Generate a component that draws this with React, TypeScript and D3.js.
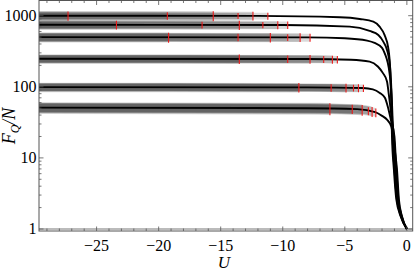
import * as d3 from "d3";
import React from "react";

// curves: interaction U vs F_Q/N, one per particle number
const uA = [-29.64, -12, -5.4, -3.8, -2.7, -2.2, -1.8, -1.5, -1.35, -1.27, -1.2, -1.05, -0.85, -0.5, 0];
const fA = [1000, 995, 950, 899, 824, 701, 536, 353, 180, 70, 20, 7, 2.6, 1.5, 1];
const uB = [-29.64, -10, -4.6, -3.0, -2.3, -1.9, -1.6, -1.35, -1.22, -1.15, -1.0, -0.8, -0.47, 0];
const fB = [745, 740, 701, 610, 536, 432, 330, 190, 65, 20, 7, 2.6, 1.5, 1];
const uC = [-29.64, -8, -5, -3.2, -2.6, -2.0, -1.8, -1.4, -1.2, -1.1, -0.95, -0.76, -0.45, 0];
const fC = [500, 495, 482, 446, 414, 352, 300, 157, 60, 20, 7, 2.6, 1.5, 1];
const uD = [-29.64, -8, -4.5, -3.0, -2.34, -1.94, -1.6, -1.45, -1.25, -1.05, -0.9, -0.72, -0.43, 0];
const fD = [248, 246, 240, 226, 193, 157, 119, 77, 40, 20, 7, 2.6, 1.5, 1];
const uE = [-29.64, -8, -3.55, -2.74, -2.18, -1.77, -1.53, -1.3, -1.0, -0.85, -0.68, -0.41, 0];
const fE = [99, 98, 96, 92, 82, 70, 52, 35, 20, 7, 2.6, 1.5, 1];
const uF = [-29.64, -8, -4, -2.55, -2.0, -1.6, -1.25, -1.09, -0.95, -0.8, -0.64, -0.39, 0];
const fF = [51, 50, 48.5, 44, 39, 34.5, 27.5, 18, 12, 7, 2.6, 1.5, 1];

// ends of the estimate ranges (red marks) and their relative errors
const endsA = [-27.3, -19.3, -15.6, -13.6, -12.4, -11.2];
const errA = [0.15, 0.12, 0.16, 0.1, 0.14, 0.11];
const endsB = [-23.4, -16.5, -13.5, -11.6, -10.4, -9.6];
const errB = [0.14, 0.11, 0.15, 0.1, 0.13, 0.12];
const endsC = [-19.2, -13.6, -11.0, -9.6, -8.6, -7.8];
const errC = [0.16, 0.12, 0.15, 0.11, 0.14, 0.13];
const endsD = [-13.5, -9.6, -7.8, -6.7, -6.0, -5.6];
const errD = [0.15, 0.12, 0.14, 0.11, 0.13, 0.12];
const endsE = [-8.7, -6.1, -4.9, -4.3, -3.9, -3.5];
const errE = [0.15, 0.12, 0.14, 0.11, 0.13, 0.12];
const endsF = [-6.2, -4.4, -3.6, -3.1, -2.8, -2.5];
const errF = [0.19, 0.15, 0.17, 0.13, 0.16, 0.14];

const xMajor = [-25, -20, -15, -10, -5, 0];
const yMajor = [1, 10, 100, 1000];

const series = [
  { u: uA, f: fA, ends: endsA, err: errA },
  { u: uB, f: fB, ends: endsB, err: errB },
  { u: uC, f: fC, ends: endsC, err: errC },
  { u: uD, f: fD, ends: endsD, err: errD },
  { u: uE, f: fE, ends: endsE, err: errE },
  { u: uF, f: fF, ends: endsF, err: errF },
];

const W = 415;
const H = 275;
const L = 39, R = 412.7, T = 0.5, B = 231;
const frameCol = "#555";
const serif = "'Liberation Serif', 'DejaVu Serif', serif";

const App: React.FC = () => {
  const x = d3.scaleLinear().domain([-29.64, 0.47]).range([L, R]);
  const y = d3.scaleLog().domain([0.937, 1636]).range([B, T]);

  const line = d3
    .line<[number, number]>()
    .x((d) => x(d[0]))
    .y((d) => y(d[1]))
    .curve(d3.curveMonotoneX);

  const xMinor = d3.range(-29, 1).filter((v) => !xMajor.includes(v));
  const yMinor: number[] = [];
  [1, 10, 100, 1000].forEach((dec) => {
    for (let k = 2; k <= 9; k++) {
      const v = dec * k;
      if (v <= 1636) yMinor.push(v);
    }
  });

  return (
    <svg width={W} height={H} style={{ position: "absolute", left: 0, top: 0 }} fontFamily={serif}>
      <defs>
        <clipPath id="plot">
          <rect x={L} y={T} width={R - L} height={B - T} />
        </clipPath>
        {series.map((s, i) =>
          s.ends.map((e, j) => (
            <clipPath id={`band-${i}-${j}`} key={`c${i}-${j}`}>
              <rect x={L} y={T} width={x(e) - L} height={B - T} />
            </clipPath>
          ))
        )}
      </defs>

      {/* axis at F = 1 */}
      <line x1={L} x2={R} y1={y(1)} y2={y(1)} stroke="#bbb" strokeWidth={2} />

      <g clipPath="url(#plot)">
        {series.map((s, i) => {
          const pts = s.u.map((u, k) => [u, s.f[k]] as [number, number]);
          return s.err.map((e, j) => {
            const area = d3
              .area<[number, number]>()
              .x((d) => x(d[0]))
              .y0((d) => y(d[1] * (1 - e)))
              .y1((d) => y(d[1] * (1 + e)))
              .curve(d3.curveMonotoneX);
            return (
              <path
                key={`a${i}-${j}`}
                d={area(pts) ?? ""}
                fill="#000"
                fillOpacity={0.145}
                clipPath={`url(#band-${i}-${j})`}
              />
            );
          });
        })}
        {series.map((s, i) => {
          const pts = s.u.map((u, k) => [u, s.f[k]] as [number, number]);
          return (
            <path key={`l${i}`} d={line(pts) ?? ""} fill="none" stroke="#000" strokeWidth={1.9} />
          );
        })}
        {series.map((s, i) => {
          const logAt = d3.scaleLinear().domain(s.u).range(s.f.map(Math.log10));
          return s.ends.map((e, j) => {
            const fe = Math.pow(10, logAt(e));
            return (
              <line
                key={`r${i}-${j}`}
                x1={x(e)}
                x2={x(e)}
                y1={y(fe * (1 + s.err[j]))}
                y2={y(fe * (1 - s.err[j]))}
                stroke="#ee1a1a"
                strokeWidth={1.1}
              />
            );
          });
        })}
      </g>

      {/* frame */}
      <rect x={L} y={T} width={R - L} height={B - T} fill="none" stroke={frameCol} strokeWidth={1} />

      {/* x ticks */}
      <g stroke={frameCol} strokeWidth={0.8}>
        {xMajor.map((v) => (
          <g key={`xm${v}`}>
            <line x1={x(v)} x2={x(v)} y1={B} y2={B - 4.5} />
            <line x1={x(v)} x2={x(v)} y1={T} y2={T + 4.5} />
          </g>
        ))}
        {xMinor.map((v) => (
          <g key={`xn${v}`}>
            <line x1={x(v)} x2={x(v)} y1={B} y2={B - 2.5} />
            <line x1={x(v)} x2={x(v)} y1={T} y2={T + 2.5} />
          </g>
        ))}
        {yMajor.map((v) => (
          <g key={`ym${v}`}>
            <line x1={L} x2={L + 4.5} y1={y(v)} y2={y(v)} />
            <line x1={R} x2={R - 4.5} y1={y(v)} y2={y(v)} />
          </g>
        ))}
        {yMinor.map((v) => (
          <g key={`yn${v}`}>
            <line x1={L} x2={L + 2.5} y1={y(v)} y2={y(v)} />
            <line x1={R} x2={R - 2.5} y1={y(v)} y2={y(v)} />
          </g>
        ))}
      </g>

      {/* tick labels */}
      <g fontSize={16} fill="#000">
        {xMajor.map((v) => (
          <text key={`xl${v}`} x={x(v)} y={251} textAnchor="middle">
            {v < 0 ? `\u2212${Math.abs(v)}` : `${v}`}
          </text>
        ))}
        {yMajor.map((v) => (
          <text key={`yl${v}`} x={L - 2.5} y={y(v) + 5.5} textAnchor="end">
            {v}
          </text>
        ))}
      </g>

      {/* axis labels */}
      <text x={(L + R) / 2 - 2} y={268} textAnchor="middle" fontSize={17} fontStyle="italic">
        U
      </text>
      <text
        transform={`translate(15, 126) rotate(-90)`}
        textAnchor="middle"
        fontSize={18}
        fontStyle="italic"
      >
        F<tspan fontSize={12} dy={4}>Q</tspan>
        <tspan dy={-4}>/N</tspan>
      </text>
    </svg>
  );
};

export default App;
